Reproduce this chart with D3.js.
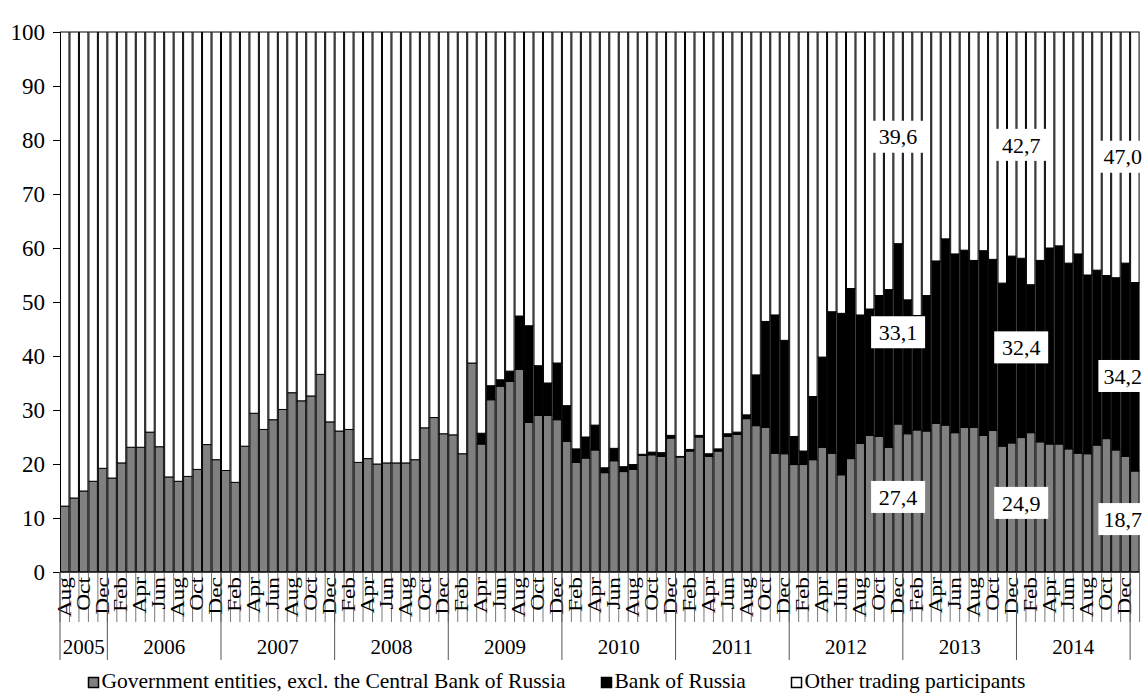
<!DOCTYPE html>
<html><head><meta charset="utf-8">
<script src="https://cdn.jsdelivr.net/npm/d3@7"></script>
<style>
body{margin:0;background:#fff}
svg{display:block}
text{font-family:"Liberation Serif","Times New Roman",serif;fill:#000}
</style>
</head><body>
<svg id="chart" width="1143" height="693"></svg>
<script>
// ---- data ----
const monthNames = ["Jan","Feb","Mar","Apr","May","Jun","Jul","Aug","Sep","Oct","Nov","Dec"];
const startYear = 2005, startMonthIndex = 7; // first bar: Aug 2005
const yearGroups = ["2005","2006","2007","2008","2009","2010","2011","2012","2013","2014"];
const yTicks = [0,10,20,30,40,50,60,70,80,90,100];
const seriesNames = ["Government entities, excl. the Central Bank of Russia","Bank of Russia","Other trading participants"];

// Government entities, excl. the Central Bank of Russia (%)
const government = [
 12.2,13.7,15.0,16.8,19.2,
 17.4,20.2,23.1,23.1,25.9,23.2,17.6,16.8,17.7,19.0,23.6,20.8,
 18.8,16.6,23.3,29.4,26.4,28.2,30.1,33.2,31.7,32.6,36.6,27.8,
 26.1,26.4,20.3,21.0,20.0,20.2,20.2,20.2,20.8,26.7,28.6,25.6,
 25.4,21.9,38.7,23.7,31.9,34.4,35.3,37.5,27.7,29.0,29.0,28.2,
 24.2,20.3,21.1,22.6,18.4,20.6,18.6,19.0,21.6,21.7,21.4,24.8,
 21.3,22.4,25.0,21.4,22.4,25.1,25.5,28.4,27.1,26.8,22.0,21.9,
 19.9,19.9,20.8,23.1,22.0,18.0,21.0,23.8,25.3,25.1,23.1,27.4,
 25.6,26.3,26.1,27.5,27.2,25.8,26.8,26.8,25.3,26.2,23.3,23.9,
 24.9,25.8,24.1,23.7,23.7,22.8,22.0,21.9,23.5,24.7,22.6,21.4,
 18.7
];
// Bank of Russia (%)
const bankOfRussia = [
 0,0,0,0,0,
 0,0,0,0,0,0,0,0,0,0,0,0,
 0,0,0,0,0,0,0,0,0,0,0,0,
 0,0,0,0,0,0,0,0,0,0,0,0,
 0,0,0,2.0,2.6,1.2,1.9,9.9,17.9,9.2,6.0,10.5,
 6.6,2.5,3.9,4.6,0.9,2.3,0.9,0.9,0.2,0.5,0.7,0.5,
 0.1,0.3,0.3,0.5,0.4,0.5,0.4,0.7,9.4,19.6,25.6,21.0,
 5.2,2.5,11.7,16.7,26.2,29.9,31.5,23.8,23.4,26.1,29.2,33.4,
 24.8,21.2,25.1,30.1,34.5,33.1,32.8,30.9,34.2,31.7,30.2,34.6,
 33.2,27.4,33.6,36.3,36.7,34.4,36.9,33.1,32.4,30.2,31.9,35.8,
 34.9
];
// value labels drawn on the chart
const annotations = [
 {bar:88, text:"39,6", at:80.6}, {bar:88, text:"33,1", at:44.4}, {bar:88, text:"27,4", at:13.9},
 {bar:101, text:"42,7", at:79.1}, {bar:101, text:"32,4", at:41.6}, {bar:101, text:"24,9", at:12.8},
 {bar:112, text:"47,0", at:76.9}, {bar:112, text:"34,2", at:36.3}, {bar:112, text:"18,7", at:9.8}
];

// ---- derived ----
const categories = government.map((_, i) => {
  const m = startMonthIndex + i;
  return {month: monthNames[m % 12], year: String(startYear + Math.floor(m / 12)), idx: i};
});
const rows = categories.map((c, i) => ({
  idx: i, gov: government[i], cbr: bankOfRussia[i],
  other: Math.max(0, 100 - government[i] - bankOfRussia[i])
}));

const W = 1143;
const svg = d3.select("#chart");
const left = 60, barStep = 9.47;
const x = d3.scaleBand().domain(d3.range(rows.length)).range([left, left + barStep * rows.length]).padding(0);
const y = d3.scaleLinear().domain([0, 100]).range([572, 32]);
const colors = {gov: "#808080", cbr: "#000000", other: "#ffffff"};

const stack = d3.stack().keys(["gov", "cbr", "other"]);
const layers = stack(rows);

const bw = x.bandwidth();
svg.append("g").selectAll("g").data(layers).join("g")
  .attr("fill", d => colors[d.key])
  .selectAll("rect").data(d => d.filter(s => s[1] - s[0] > 0)).join("rect")
  .attr("x", d => x(d.data.idx) + 0.5)
  .attr("width", bw - 1)
  .attr("y", d => y(d[1]))
  .attr("height", d => y(d[0]) - y(d[1]))
  .attr("stroke", "#000").attr("stroke-width", 1);

// y axis
const yAxis = svg.append("g").attr("transform", `translate(${left},0)`)
  .call(d3.axisLeft(y).tickValues(yTicks).tickSize(7).tickSizeOuter(0).tickPadding(8));
yAxis.select(".domain").attr("stroke", "#000");
yAxis.selectAll(".tick line").attr("stroke", "#000");
yAxis.selectAll("text").style("font-size", "23px").style("font-family", '"Liberation Serif",serif');

// x axis: bar separators and labels
const xg = svg.append("g");
xg.append("line").attr("x1", left).attr("x2", x.range()[1]).attr("y1", y(0)).attr("y2", y(0)).attr("stroke", "#000");
xg.selectAll("line.sep").data(d3.range(rows.length + 1)).join("line").attr("class", "sep")
  .attr("x1", i => left + bw * i).attr("x2", i => left + bw * i)
  .attr("y1", y(0)).attr("y2", 622).attr("stroke", "#555").attr("stroke-width", 0.8);
xg.selectAll("text.month").data(categories.filter((c, i) => i % 2 === 0)).join("text").attr("class", "month")
  .attr("transform", c => `translate(${x(c.idx) + bw / 2},577) rotate(-90) scale(1.3,1)`)
  .attr("text-anchor", "end").attr("dy", "0.33em").style("font-size", "18px")
  .text(c => c.month);

// year groups
const groups = yearGroups.map(yr => {
  const idxs = categories.filter(c => c.year === yr).map(c => c.idx);
  return {year: yr, first: d3.min(idxs), last: d3.max(idxs)};
});
const bounds = [groups[0].first].concat(groups.map(g => g.last + 1));
xg.selectAll("line.year").data(bounds).join("line").attr("class", "year")
  .attr("x1", i => left + bw * i).attr("x2", i => left + bw * i)
  .attr("y1", y(0)).attr("y2", 660).attr("stroke", "#555").attr("stroke-width", 1);
xg.selectAll("text.year").data(groups).join("text").attr("class", "year")
  .attr("x", g => left + bw * (g.first + g.last + 1) / 2).attr("y", 647)
  .attr("text-anchor", "middle").attr("dy", "0.35em").style("font-size", "21px")
  .text(g => g.year);

// annotations (boxes may run past the right edge, text is kept inside)
const ann = svg.append("g").selectAll("g").data(annotations).join("g")
  .attr("transform", a => `translate(${x(a.bar) + bw / 2},${y(a.at)})`);
ann.append("rect").attr("x", -27).attr("y", -16).attr("width", 54).attr("height", 32).attr("fill", "#fff");
ann.append("text").attr("text-anchor", "middle").attr("dy", "0.35em").style("font-size", "22px").text(a => a.text)
  .each(function(a) {
    const cx = x(a.bar) + bw / 2;
    const half = this.getComputedTextLength() / 2;
    const over = cx + half - (W - 1);
    if (over > 0) d3.select(this).attr("x", -over);
  });

// legend
const legendItems = [
  {name: seriesNames[0], fill: colors.gov, x: 88},
  {name: seriesNames[1], fill: colors.cbr, x: 601},
  {name: seriesNames[2], fill: colors.other, x: 791}
];
const lg = svg.append("g").selectAll("g").data(legendItems).join("g")
  .attr("transform", d => `translate(${d.x},677)`);
lg.append("rect").attr("x", 0.5).attr("y", 0.5).attr("width", 10).attr("height", 10)
  .attr("fill", d => d.fill).attr("stroke", "#000").attr("stroke-width", 1.5);
lg.append("text").attr("x", 13.5).attr("y", 11).style("font-size", "21.5px").text(d => d.name);
</script>
</body></html>
